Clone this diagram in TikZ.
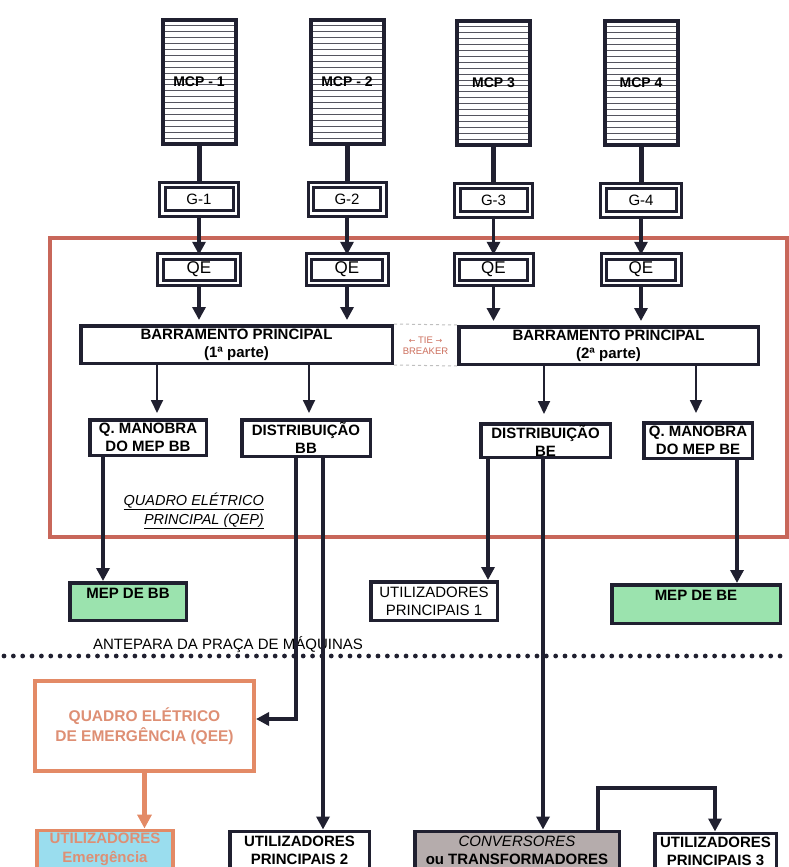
\documentclass[tikz,border=0pt]{standalone}
\usepackage{fontspec}
\setmainfont{Liberation Sans}
\newfontfamily\dejavu{DejaVu Sans}
\usetikzlibrary{arrows.meta,calc}
\definecolor{dk}{HTML}{202030}
\definecolor{qepred}{HTML}{C8675A}
\definecolor{orng}{HTML}{E38A66}
\definecolor{salmon}{HTML}{DE8F74}
\definecolor{tiec}{HTML}{CC6E5C}
\definecolor{mgreen}{HTML}{9BE3AE}
\definecolor{ecyan}{HTML}{9ADDEE}
\definecolor{cgray}{HTML}{B5ACAC}
\definecolor{hatchc}{HTML}{55555F}
\begin{document}
\begin{tikzpicture}[x=1pt,y=-1pt,
  box/.style={draw=dk, line width=3.5pt, fill=white, inner sep=0pt, align=center,
    font=\bfseries\fontsize{15}{18}\selectfont},
  rbox/.style={box, font=\fontsize{15}{18}\selectfont},
  dbox/.style={draw=dk, double=white, double distance=2.5pt, line width=3pt,
    fill=white, inner sep=0pt},
  gtext/.style={font=\fontsize{15}{18}\selectfont},
  qetext/.style={font=\fontsize{17}{20}\selectfont},
  mcpbox/.style={draw=dk, line width=4pt, fill=white, inner sep=0pt,
    minimum width=73pt, minimum height=124pt,
    font=\bfseries\fontsize{14}{16}\selectfont,
    path picture={\foreach \k in {1,...,20}{
      \draw[hatchc,line width=0.9pt]
        ([yshift=-\k*5.9pt]path picture bounding box.north west) --
        ([yshift=-\k*5.9pt]path picture bounding box.north east);}}},
  stub/.style={draw=dk, line width=5pt},
  conn/.style={draw=dk, line width=3.5pt, -{Triangle[width=13pt,length=13pt]}},
  thinarr/.style={draw=dk, line width=1.8pt, -{Triangle[width=12pt,length=13pt]}},
  orarr/.style={draw=orng, line width=4.5pt, -{Triangle[width=14pt,length=14pt]}},
  topt/.style={text height=11pt, text depth=18pt}
]
\useasboundingbox (0,0) rectangle (789,867);

% QEP frame
\node[draw=qepred, line width=4.5pt, minimum width=737pt, minimum height=299pt, inner sep=0pt] (qep) at (418.5,387.5) {};

% MCPs
\node[mcpbox] (mcp1) at (199,82) {MCP - 1};
\node[mcpbox] (mcp2) at (347,82) {MCP - 2};
\node[mcpbox] (mcp3) at (493.5,83) {MCP 3};
\node[mcpbox] (mcp4) at (641,83) {MCP 4};

% G boxes
\node[dbox, gtext, minimum width=73.5pt, minimum height=28.5pt] (g1) at (199,199) {G-1};
\node[dbox, gtext, minimum width=72.5pt, minimum height=28.5pt] (g2) at (347,199) {G-2};
\node[dbox, gtext, minimum width=72.5pt, minimum height=28.5pt] (g3) at (493.5,200) {G-3};
\node[dbox, gtext, minimum width=75.5pt, minimum height=28.5pt] (g4) at (641,200) {G-4};

% QE boxes
\node[dbox, qetext, minimum width=77.5pt, minimum height=26.5pt] (qe1) at (199,269.5) {QE};
\node[dbox, qetext, minimum width=76.5pt, minimum height=26.5pt] (qe2) at (347,269.5) {QE};
\node[dbox, qetext, minimum width=73.5pt, minimum height=26.5pt] (qe3) at (493.5,269.5) {QE};
\node[dbox, qetext, minimum width=74.5pt, minimum height=26.5pt] (qe4) at (641,269.5) {QE};

% Barramentos
\node[box, minimum width=311.5pt, minimum height=37.5pt] (bar1) at (236.5,344.5) {BARRAMENTO PRINCIPAL\\(1ª parte)};
\node[box, minimum width=299.5pt, minimum height=37.5pt] (bar2) at (608.5,345.5) {BARRAMENTO PRINCIPAL\\(2ª parte)};

% tie breaker
\draw[gray!50, line width=1pt, dashed] (bar1.north east) -- (bar2.north west);
\draw[gray!50, line width=1pt, dashed] (bar1.south east) -- (bar2.south west);
\node[text=tiec, align=center, inner sep=0pt, font=\fontsize{9.5}{11.5}\selectfont] (tie) at (425.5,345.5)
  {{\dejavu\fontsize{8}{10}\selectfont ←} TIE {\dejavu\fontsize{8}{10}\selectfont →}\\BREAKER};

% sub boxes
\node[box, minimum width=116.5pt, minimum height=35.5pt] (qmbb) at (148,437.5) {Q. MANOBRA\\DO MEP BB};
\node[box, minimum width=128.5pt, minimum height=36.5pt] (dbb) at (306,438) {DISTRIBUIÇÃO\\BB};
\node[box, minimum width=129.5pt, minimum height=33.5pt] (dbe) at (545.5,440.5) {DISTRIBUIÇÃO\\BE};
\node[box, minimum width=108.5pt, minimum height=35.5pt] (qmbe) at (698,440.5) {Q. MANOBRA\\DO MEP BE};

% QEP label
\node[anchor=east, align=right, inner sep=0pt, font=\itshape\fontsize{14.5}{19}\selectfont] (qeplab) at (264,511)
  {\underline{QUADRO ELÉTRICO}\\\underline{PRINCIPAL (QEP)}};

% level boxes
\node[box, fill=mgreen, topt, minimum width=116.5pt, minimum height=37.5pt] (mepbb) at (128,601.5) {MEP DE BB};
\node[rbox, minimum width=126.5pt, minimum height=38.5pt] (up1) at (434,601) {UTILIZADORES\\PRINCIPAIS 1};
\node[box, fill=mgreen, topt, minimum width=168.5pt, minimum height=38.5pt] (mepbe) at (696,604) {MEP DE BE};

% bulkhead
\coordinate (dl) at (4,656);
\coordinate (dr) at (789,656);
\draw[dk, line width=4.8pt, line cap=round, dash pattern=on 0pt off 9.35pt] (dl) -- (dr);
\node[inner sep=0pt, font=\fontsize{15}{18}\selectfont] (antepara) at (228,645) {ANTEPARA DA PRAÇA DE MÁQUINAS};

% QEE
\node[draw=orng, line width=4pt, fill=white, inner sep=0pt, align=center, text=salmon,
  font=\bfseries\fontsize{15.5}{20}\selectfont, minimum width=219pt, minimum height=90pt] (qee) at (144.5,726)
  {QUADRO ELÉTRICO\\DE EMERGÊNCIA (QEE)};

% bottom boxes
\node[draw=orng, line width=3.5pt, fill=ecyan, inner sep=0pt, align=center, text=salmon,
  font=\bfseries\fontsize{15}{19}\selectfont, minimum width=136pt, minimum height=38.5pt] (emerg) at (105,849.5)
  {UTILIZADORES\\Emergência};
\node[box, minimum width=139.5pt, minimum height=37.5pt] (up2) at (299.5,850) {UTILIZADORES\\PRINCIPAIS 2};
\node[box, fill=cgray, minimum width=204.5pt, minimum height=37.5pt] (conv) at (517,850)
  {\mdseries\itshape CONVERSORES\\ou TRANSFORMADORES};
\node[box, minimum width=121.5pt, minimum height=35.5pt] (up3) at (715.5,851) {UTILIZADORES\\PRINCIPAIS 3};

% connectors top
\foreach \i in {1,2,3,4}{
  \draw[stub] (mcp\i.south) -- (g\i.north);
  \draw[conn] (g\i.south) -- (qe\i.north);
}
\draw[conn, shorten >=4pt] (qe1.south) -- (qe1.south |- bar1.north);
\draw[conn, shorten >=4pt] (qe2.south) -- (qe2.south |- bar1.north);
\draw[conn, shorten >=4pt] (qe3.south) -- (qe3.south |- bar2.north);
\draw[conn, shorten >=4pt] (qe4.south) -- (qe4.south |- bar2.north);

% bar to sub boxes
\coordinate (t1) at (157,0);
\coordinate (t2) at (309,0);
\coordinate (t3) at (544,0);
\coordinate (t4) at (696,0);
\draw[thinarr, shorten >=5pt] (t1 |- bar1.south) -- (t1 |- qmbb.north);
\draw[thinarr, shorten >=5pt] (t2 |- bar1.south) -- (t2 |- dbb.north);
\draw[thinarr, shorten >=8pt] (t3 |- bar2.south) -- (t3 |- dbe.north);
\draw[thinarr, shorten >=8pt] (t4 |- bar2.south) -- (t4 |- qmbe.north);

% down lines
\coordinate (xa) at (103,0);
\coordinate (xb) at (296,0);
\coordinate (xc) at (323,0);
\coordinate (xd) at (488,0);
\coordinate (xe) at (543,0);
\coordinate (xf) at (737,0);
\coordinate (xg) at (598,0);
\coordinate (xh) at (715,0);
\coordinate (turn) at (0,788);
\draw[conn] (xa |- qmbb.south) -- (xa |- mepbb.north);
\draw[conn] (xb |- dbb.south) |- ([yshift=7pt]qee.east);
\draw[conn] (xc |- dbb.south) -- (xc |- up2.north);
\draw[conn] (xd |- dbe.south) -- (xd |- up1.north);
\draw[conn] (xe |- dbe.south) -- (xe |- conv.north);
\draw[conn] (xf |- qmbe.south) -- (xf |- mepbe.north);
\draw[conn] (xg |- conv.north) -- (xg |- turn) -- (xh |- turn) -- (xh |- up3.north);
\draw[orarr] (qee.south) -- (qee.south |- emerg.north);
\end{tikzpicture}
\end{document}
